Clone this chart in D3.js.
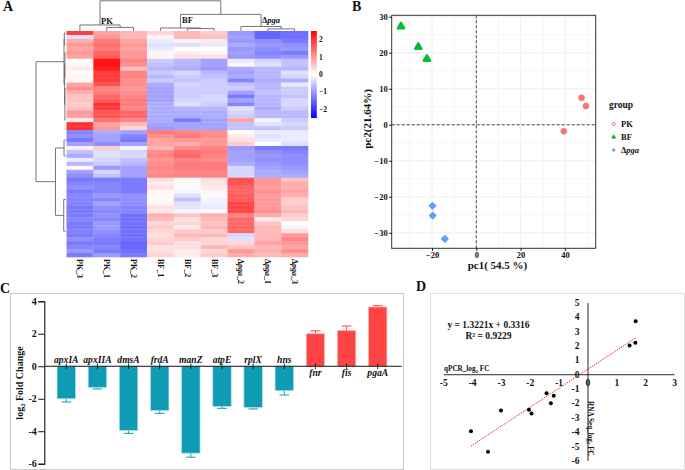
<!DOCTYPE html>
<html>
<head>
<meta charset="utf-8">
<script src="https://d3js.org/d3.v7.min.js"></script>
<style>
    html, body { margin: 0; padding: 0; background: #fff; }
    svg { display: block; }
    text { font-family: "Liberation Serif", serif; font-weight: bold; fill: #111; }
    .axis path, .axis line { stroke: #111; }
    .nodomain path { display: none; }
</style>
</head>
<body>
<svg width="685" height="470"></svg>
<script>
    // ---- panel A data
    var heatColumns = ["PK_3", "PK_1", "PK_2", "BF_1", "BF_2", "BF_3", "Δpga_2", "Δpga_1", "Δpga_3"];
    var heatRows = [
        [1.9, .9, .7, .4, .7, .5, -1, -1.5, -1.4],
        [-.3, 1, .7, .1, .7, .6, -.9, -1.5, -1.4],
        [.8, 1.3, .9, -.2, .1, .2, -1, -1.1, -1.3],
        [1, 1.4, 1, -.3, -.3, -.2, -.8, -1, -1.1],
        [.9, 1.3, .9, -.2, 0, 0, -1, -1.1, -1],
        [1, 1.5, 1, .1, .2, .1, -.9, -1.2, -1.3],
        [.9, 1.6, 1, .1, .3, .3, -1, -1.1, -1],
        [0, 2.3, 1.2, -.5, -.7, -.9, -.2, -.4, -.6],
        [.1, 2.3, 1.1, -.6, -.7, -.9, .1, -.3, -.6],
        [.2, 2.2, .6, -.7, -.8, -1, -.8, -.7, -.7],
        [0, 1.9, 1.2, -.5, -.4, -.7, -.9, -.7, -.3],
        [.1, 1.9, 1.2, -.7, -.5, -.6, -.8, -.7, -.4],
        [.05, 1.9, 1.1, -.5, -.6, -.5, -1.2, -.8, -.8],
        [.9, 1.7, 1.1, -.8, -.4, -.5, -.6, -.7, -.2],
        [1.1, 1.2, 1, -.9, -.5, -.5, -.5, -.7, -.5],
        [.8, 1.3, 1.1, -.9, -.5, -.5, -.9, -.6, -.5],
        [.6, 1.5, 1.2, -.9, -.5, -.4, -1.3, -.7, -.6],
        [.6, 1.6, 1.3, -.9, -.4, -.4, -.9, -.7, -.4],
        [.5, 2, 1.3, -.8, -.3, -.5, -1.2, -.7, -.4],
        [.6, 1.9, 1.2, -.8, -.7, -.7, -.3, -.8, -.5],
        [1, 1.7, 1.5, -.8, -.8, -.8, -.4, -.7, -.7],
        [.9, 1.7, 1.5, -.8, -.8, -.8, -.5, -.7, -.7],
        [.2, 1.4, 1.2, -.8, -1.3, -.9, .9, -.1, -.5],
        [2, .9, .7, -.9, -.9, -.9, -.6, -.3, -.4],
        [2, 1, .4, -1, -.9, -.9, -.6, -.6, -.5],
        [-1.2, -.8, -.9, 1.3, 1.2, 1.1, 0, -.2, -.2],
        [-1.1, -.9, -1.2, 1.1, 1.3, 1.1, .2, -.3, -.2],
        [-1.3, -.9, -1.3, .9, 1, 1, .3, -.2, -.2],
        [-.9, -1.1, -.9, .9, .8, 1, .5, 0, -.3],
        [.2, .5, -.1, .7, 1.1, 1.2, -1, -1.3, -1.3],
        [-.6, -.3, -.4, 1.1, 1.4, 1.3, -.9, -1.1, -1.2],
        [-.8, -.3, -.4, 1.2, 1.5, 1.2, -.9, -1, -1.1],
        [-.2, -.4, -.6, 1, 1.2, 1.1, -.9, -1.1, -1.1],
        [-.7, -.5, -.7, 1.1, 1.3, 1.3, -.8, -1, -1.1],
        [.1, -1, -.9, 1.2, 1.3, 1.3, -.4, -.9, -1],
        [-.9, -.4, -.9, 1.1, 1.2, 1.2, -.4, -.8, -.9],
        [-1.1, -.6, -.9, 1.2, 1.2, 1.2, -.4, -.8, -.8],
        [-1.3, -1.3, -1.3, .3, .03, .3, 1.7, 1, .6],
        [-1.2, -1.2, -1.3, .2, .05, .3, 1.7, 1, .8],
        [-1.1, -1.2, -1.3, .3, .02, .2, 1.5, 1, .8],
        [-1.3, -1.2, -1.3, .1, -.1, .1, 1.5, 1.1, .9],
        [-1.2, -1, -1.1, .05, -.3, .05, 1.6, 1, .8],
        [-1.2, -1.2, -1.1, .05, -.6, -.1, 1.6, 1, .5],
        [-1.2, -.9, -1.1, .1, -.3, -.15, 1.8, 1, .5],
        [-1.3, -1.1, -1.2, .3, -.25, -.2, 1.85, 1, .6],
        [-1.3, -1.2, -1.2, .2, -.1, .05, 1.8, 1.1, .7],
        [-1.3, -1.1, -1.4, .8, .6, .8, 1.2, .8, .5],
        [-1.2, -1.2, -1.4, .7, .3, .7, 1.5, .2, .4],
        [-1.3, -1, -1.4, .4, .4, .6, 1.5, .6, 0],
        [-1.3, -1, -1.4, .5, .2, .7, 1.5, .7, -.1],
        [-1.25, -1.1, -1.4, .4, .5, .5, 1.5, .7, .3],
        [-1.3, -1.2, -1.4, .3, .7, .7, -.4, .7, 1],
        [-1.1, -1.3, -1.4, .4, .5, .4, -.3, .7, 1.2],
        [-1.3, -1.3, -1.5, .5, .3, .4, .4, .9, 1],
        [-1.2, -1.2, -1.5, .3, .3, .7, .6, .7, .9],
        [-1, -1.3, -1.4, .3, .2, .4, 1, .8, 1.1],
        [-1.3, -1, -1.3, .4, .2, .5, .8, .7, .8]
    ];
    // dendrograms: merge height 0..1, leaves are column / row indexes
    var colTree = { h: 1, c: [
        { h: .2, c: [{ i: 0 }, { h: .12, c: [{ i: 1 }, { i: 2 }] }] },
        { h: .55, c: [
            { h: .1, c: [{ i: 3 }, { h: .08, c: [{ i: 4 }, { i: 5 }] }] },
            { h: .15, c: [{ i: 6 }, { h: .07, c: [{ i: 7 }, { i: 8 }] }] }
        ] }
    ] };
    var rowTree = { h: 1, c: [
        { h: .05, c: [
            { h: .04, c: [{ i: 0 }, { i: 3 }] },
            { h: .03, c: [
                { h: .02, c: [{ i: 5 }, { i: 11 }] },
                { h: .02, c: [{ i: 14 }, { i: 22 }] }
            ] }
        ] },
        { h: .34, c: [
            { h: .05, c: [{ i: 27 }, { i: 31 }] },
            { h: .06, c: [{ i: 42 }, { i: 50 }] }
        ] }
    ] };
    var heatTicks = [2, 1, 0, -1, -2];

    // ---- panel B data
    var pcaPK = [[47.5, 7.5], [49.5, 5.2], [39.5, -1.8]];
    var pcaBF = [[-34, 27.3], [-26.2, 21.6], [-22.3, 18.3]];
    var pcaPga = [[-19.8, -22.5], [-19.7, -25.2], [-14.2, -31.7]];

    // ---- panel C data
    var genes = ["apxIA", "apxIIA", "dmsA", "frdA", "manZ", "atpE", "rplX", "hns", "fnr", "fis", "pgaA"];
    var foldChange = [-2.0, -1.3, -3.95, -2.72, -5.35, -2.47, -2.53, -1.5, 2.0, 2.2, 3.65];
    var foldError = [.2, .1, .18, .18, .25, .12, .1, .27, .18, .28, .08];

    // ---- panel D data
    var qpcrFC = [1.67, 1.66, 1.46, -1.42, -1.17, -1.27, -2.03, -1.94, -3.0, -4.04, -3.45];
    var rnaFC = [3.7, 2.2, 2.0, -1.33, -1.5, -2.02, -2.47, -2.74, -2.53, -3.98, -5.4];
    var fitSlope = 1.3221, fitIntercept = 0.3316, fitRange = [-4.04, 1.67];

    var svg = d3.select("svg");
    var font = "Liberation Serif";

    function panelLabel(s, x, y) {
        svg.append("text").attr("x", x).attr("y", y).attr("font-size", 14).text(s);
    }
    // "Δpga" style text, pga is italic
    function pgaText(sel, prefix, suffix) {
        sel.append("tspan").text(prefix || "Δ");
        sel.append("tspan").attr("font-style", "italic").text("pga");
        if (suffix) sel.append("tspan").text(suffix);
    }

    panelLabel("A", 3, 11);
    panelLabel("B", 352, 11);
    panelLabel("C", 0, 293);
    panelLabel("D", 416, 291);

    /////////////////////////// A heatmap
    var heatX = d3.scaleBand().domain(d3.range(heatColumns.length)).range([66.5, 308]);
    var heatY = d3.scaleBand().domain(d3.range(heatRows.length)).range([31, 257]);
    var heatColor = d3.scaleLinear().domain([-2.5, 0, 2.5]).range(["#0000ff", "#ffffff", "#ff0000"]);

    var heat = svg.append("g").style("filter", "blur(0.5px)");
    heatRows.forEach(function (row, r) {
        heat.selectAll(null)
            .data(row)
            .enter()
            .append("rect")
            .attr("x", function (d, i) { return heatX(i); })
            .attr("y", heatY(r))
            .attr("width", heatX.bandwidth() + .3)
            .attr("height", heatY.bandwidth() + .3)
            .attr("fill", function (d) { return heatColor(d); });
    });

    // dendrograms
    var colPos = function (i) { return heatX(i) + heatX.bandwidth() / 2; };
    var rowPos = function (i) { return heatY(i) + heatY.bandwidth() / 2; };
    var colH = d3.scaleLinear().domain([0, 1]).range([31, .8]);
    var rowH = d3.scaleLinear().domain([0, 1]).range([65.5, 36]);

    function walk(node, pos, out) {
        if (node.c === undefined) return { p: pos(node.i), h: 0 };
        var a = walk(node.c[0], pos, out), b = walk(node.c[1], pos, out);
        out.push({ a: a, b: b, h: node.h });
        return { p: (a.p + b.p) / 2, h: node.h };
    }
    var colLinks = [], rowLinks = [];
    walk(colTree, colPos, colLinks);
    walk(rowTree, rowPos, rowLinks);

    svg.append("g").selectAll("path").data(colLinks).enter().append("path")
        .attr("fill", "none").attr("stroke", "#666").attr("stroke-width", .9)
        .attr("d", function (d) {
            return "M" + d.a.p + "," + colH(d.a.h) + "V" + colH(d.h) + "H" + d.b.p + "V" + colH(d.b.h);
        });
    svg.append("g").selectAll("path").data(rowLinks).enter().append("path")
        .attr("fill", "none").attr("stroke", "#666").attr("stroke-width", .9)
        .attr("d", function (d) {
            return "M" + rowH(d.a.h) + "," + d.a.p + "H" + rowH(d.h) + "V" + d.b.p + "H" + rowH(d.b.h);
        });

    // group names above the heatmap
    svg.append("text").attr("x", 101).attr("y", 24).attr("font-size", 8.5).text("PK");
    svg.append("text").attr("x", 182).attr("y", 23).attr("font-size", 8.5).text("BF");
    svg.append("text").attr("x", 262).attr("y", 23).attr("font-size", 8.5).call(pgaText);

    // column labels
    heatColumns.forEach(function (name, i) {
        var t = svg.append("text")
            .attr("transform", "translate(" + (colPos(i) - 2.5) + ",259) rotate(90)")
            .attr("font-size", 8);
        if (name.indexOf("Δ") === 0) pgaText(t, "Δ", name.slice(4));
        else t.text(name);
    });

    // colour bar
    var barY = d3.scaleLinear().domain([2.5, -2.5]).range([31, 118]);
    var barDefs = svg.append("defs").append("linearGradient").attr("id", "heatbar")
        .attr("x1", 0).attr("x2", 0).attr("y1", 0).attr("y2", 1);
    [["0%", 2.5], ["50%", 0], ["100%", -2.5]].forEach(function (s) {
        barDefs.append("stop").attr("offset", s[0]).attr("stop-color", heatColor(s[1]));
    });
    svg.append("rect").attr("x", 311).attr("y", barY(2.5)).attr("width", 5.8)
        .attr("height", barY(-2.5) - barY(2.5)).attr("fill", "url(#heatbar)");
    svg.append("g").selectAll("text").data(heatTicks).enter().append("text")
        .attr("x", 319).attr("y", function (d) { return barY(d) + 2.5; })
        .attr("font-size", 7.5)
        .text(function (d) { return d < 0 ? "−" + (-d) : d; });

    /////////////////////////// B PCA
    var pcX = d3.scaleLinear().domain([-38.2, 53.9]).range([391.7, 595.7]);
    var pcY = d3.scaleLinear().domain([30.4, -34.3]).range([15.3, 248.3]);
    var pca = svg.append("g");

    // grid, minor then major
    d3.range(-30, 51, 10).forEach(function (v) {
        var major = v % 20 === 0;
        pca.append("line").attr("x1", pcX(v)).attr("x2", pcX(v)).attr("y1", 15.3).attr("y2", 248.3)
            .attr("stroke", "#ececec").attr("stroke-width", major ? .9 : .5);
    });
    d3.range(-35, 31, 5).forEach(function (v) {
        var major = v % 10 === 0;
        pca.append("line").attr("y1", pcY(v)).attr("y2", pcY(v)).attr("x1", 391.7).attr("x2", 595.7)
            .attr("stroke", "#ececec").attr("stroke-width", major ? .9 : .5);
    });
    pca.append("line").attr("x1", pcX(0)).attr("x2", pcX(0)).attr("y1", 15.3).attr("y2", 248.3)
        .attr("stroke", "#333").attr("stroke-dasharray", "3,2").attr("stroke-width", .9);
    pca.append("line").attr("y1", pcY(0)).attr("y2", pcY(0)).attr("x1", 391.7).attr("x2", 595.7)
        .attr("stroke", "#333").attr("stroke-dasharray", "3,2").attr("stroke-width", .9);

    var symCircle = d3.symbol().type(d3.symbolCircle).size(26);
    var symTri = d3.symbol().type(d3.symbolTriangle).size(17);
    var symDia = d3.symbol().type(d3.symbolDiamond2).size(24);
    [[pcaPK, symCircle, "#F8766D", 1], [pcaBF, symTri, "#00BA38", 2.4], [pcaPga, symDia, "#619CFF", 1.6]].forEach(function (g) {
        pca.append("g").selectAll("path").data(g[0]).enter().append("path")
            .attr("transform", function (d) { return "translate(" + pcX(d[0]) + "," + pcY(d[1]) + ")"; })
            .attr("d", g[1])
            .attr("fill", g[2]).attr("stroke", g[2]).attr("stroke-width", g[3]).attr("stroke-linejoin", "round");
    });

    pca.append("rect").attr("x", 391.7).attr("y", 15.3).attr("width", 204).attr("height", 233)
        .attr("fill", "none").attr("stroke", "#333").attr("stroke-width", 1);

    var pcXAxis = pca.append("g").attr("class", "axis nodomain")
        .attr("transform", "translate(0,248.3)")
        .call(d3.axisBottom(pcX).tickValues([-20, 0, 20, 40]).tickSize(2.5).tickPadding(1.5));
    var pcYAxis = pca.append("g").attr("class", "axis nodomain")
        .attr("transform", "translate(391.7,0)")
        .call(d3.axisLeft(pcY).tickValues([30, 20, 10, 0, -10, -20, -30]).tickSize(2.5).tickPadding(1.5));
    pca.selectAll(".axis text").attr("font-family", font).attr("font-size", 8.5);

    svg.append("text").attr("x", 497.5).attr("y", 269).attr("text-anchor", "middle")
        .attr("font-size", 11).text("pc1( 54.5 %)");
    svg.append("text").attr("transform", "translate(371,119) rotate(-90)").attr("text-anchor", "middle")
        .attr("font-size", 11).text("pc2(21.64%)");

    svg.append("text").attr("x", 609).attr("y", 107.5).attr("font-size", 9.5).text("group");
    svg.append("path").attr("transform", "translate(613.7,124)")
        .attr("d", d3.symbol().type(d3.symbolCircle).size(9)).attr("fill", "#fde3e0").attr("stroke", "#F8766D").attr("stroke-width", .8);
    svg.append("path").attr("transform", "translate(613.7,137)")
        .attr("d", d3.symbol().type(d3.symbolTriangle).size(6)).attr("fill", "#00BA38").attr("stroke", "#00BA38").attr("stroke-width", 1).attr("stroke-linejoin", "round");
    svg.append("path").attr("transform", "translate(613.7,150)")
        .attr("d", d3.symbol().type(d3.symbolDiamond2).size(6)).attr("fill", "#619CFF").attr("stroke", "#619CFF").attr("stroke-width", 1).attr("stroke-linejoin", "round");
    svg.append("text").attr("x", 621).attr("y", 126.5).attr("font-size", 8.5).text("PK");
    svg.append("text").attr("x", 621).attr("y", 140).attr("font-size", 8.5).text("BF");
    svg.append("text").attr("x", 621).attr("y", 153).attr("font-size", 8.5).call(pgaText);

    /////////////////////////// C bars
    svg.append("rect").attr("x", 10.5).attr("y", 293.5).attr("width", 393).attr("height", 176)
        .attr("fill", "none").attr("stroke", "#c8c8c8").attr("stroke-width", 1);

    var fcY = d3.scaleLinear().domain([4, -6]).range([301.3, 463.7]);
    var fcX = d3.scaleBand().domain(genes).range([50.7, 393.3]).paddingInner(.41).paddingOuter(.205);
    var bars = svg.append("g");
    var colorOf = function (v) { return v < 0 ? "#109bb5" : "#ff4444"; };
    var strokeOf = function (v) { return v < 0 ? "#a5dde8" : "#ffbcbc"; };

    genes.forEach(function (g, i) {
        var v = foldChange[i], e = foldError[i];
        var cx = fcX(g) + fcX.bandwidth() / 2;
        var tip = fcY(v + (v < 0 ? -e : e));
        bars.append("line").attr("x1", cx).attr("x2", cx).attr("y1", fcY(v)).attr("y2", tip)
            .attr("stroke", colorOf(v)).attr("stroke-width", 1);
        bars.append("line").attr("x1", cx - 4.8).attr("x2", cx + 4.8).attr("y1", tip).attr("y2", tip)
            .attr("stroke", colorOf(v)).attr("stroke-width", 1);
        bars.append("rect").attr("x", fcX(g)).attr("width", fcX.bandwidth())
            .attr("y", Math.min(fcY(v), fcY(0))).attr("height", Math.abs(fcY(v) - fcY(0)))
            .attr("fill", colorOf(v)).attr("stroke", strokeOf(v)).attr("stroke-width", .7);
        bars.append("line").attr("x1", cx).attr("x2", cx).attr("y1", fcY(0) - 2.8).attr("y2", fcY(0) + 2.8)
            .attr("stroke", "#111").attr("stroke-width", .9);
        bars.append("text").attr("x", cx).attr("y", v < 0 ? fcY(0) - 3.6 : fcY(0) + 9.5)
            .attr("text-anchor", "middle").attr("font-style", "italic").attr("font-size", 9.6).text(g);
    });
    bars.append("line").attr("x1", 44.3).attr("x2", 401.7).attr("y1", fcY(0)).attr("y2", fcY(0))
        .attr("stroke", "#111").attr("stroke-width", 1);

    var fcAxis = svg.append("g").attr("class", "axis")
        .attr("transform", "translate(44.3,0)")
        .call(d3.axisLeft(fcY).tickValues([4, 2, 0, -2, -4, -6]).tickFormat(String).tickSize(6).tickPadding(1.5));
    fcAxis.select("path").attr("stroke-width", 1.1);
    fcAxis.selectAll("text").attr("font-family", font).attr("font-size", 10);

    var fcTitle = svg.append("text").attr("transform", "translate(22.5,383) rotate(-90)")
        .attr("text-anchor", "middle").attr("font-size", 10);
    fcTitle.append("tspan").text("log");
    fcTitle.append("tspan").attr("font-size", 6.5).attr("dy", 2).text("2");
    fcTitle.append("tspan").attr("dy", -2).text("  Fold Change");

    /////////////////////////// D scatter
    svg.append("rect").attr("x", 430.5).attr("y", 293.5).attr("width", 254).attr("height", 176)
        .attr("fill", "none").attr("stroke", "#e0e0e0").attr("stroke-width", 1);

    var qX = d3.scaleLinear().domain([-5, 3]).range([443.3, 674]);
    var qY = d3.scaleLinear().domain([5, -6]).range([302.5, 460.3]);

    var qxAxis = svg.append("g").attr("class", "axis").attr("transform", "translate(0," + qY(0) + ")")
        .call(d3.axisBottom(qX).ticks(8).tickFormat(String).tickSize(0).tickPadding(5));
    var qyAxis = svg.append("g").attr("class", "axis").attr("transform", "translate(" + qX(0) + ",0)")
        .call(d3.axisLeft(qY).ticks(11).tickFormat(String).tickSize(0).tickPadding(8));
    qxAxis.select("path").attr("stroke", "#555").attr("stroke-width", .9);
    qyAxis.select("path").attr("stroke", "#555").attr("stroke-width", .9);
    qxAxis.selectAll("text").attr("font-family", font).attr("font-size", 9.5);
    qyAxis.selectAll("text").attr("font-family", font).attr("font-size", 9.5);

    svg.append("line")
        .attr("x1", qX(fitRange[0])).attr("y1", qY(fitSlope * fitRange[0] + fitIntercept))
        .attr("x2", qX(fitRange[1])).attr("y2", qY(fitSlope * fitRange[1] + fitIntercept))
        .attr("stroke", "#e8252b").attr("stroke-width", 1).attr("stroke-dasharray", "1.3,1");

    svg.append("g").selectAll("circle").data(qpcrFC).enter().append("circle")
        .attr("cx", function (d) { return qX(d); })
        .attr("cy", function (d, i) { return qY(rnaFC[i]); })
        .attr("r", 2).attr("fill", "#000");

    svg.append("text").attr("x", 488.5).attr("y", 328).attr("text-anchor", "middle")
        .attr("font-size", 9.5).text("y = 1.3221x + 0.3316");
    svg.append("text").attr("x", 488.5).attr("y", 339).attr("text-anchor", "middle")
        .attr("font-size", 9.5).text("R² = 0.9229");

    var qpcrTitle = svg.append("text").attr("x", 444).attr("y", 371).attr("font-size", 7.2);
    qpcrTitle.append("tspan").text("qPCR_log");
    qpcrTitle.append("tspan").attr("font-size", 5).attr("dy", 1.5).text("2");
    qpcrTitle.append("tspan").attr("dy", -1.5).text(" FC");

    var rnaTitle = svg.append("text").attr("transform", "translate(588,401) rotate(90)").attr("font-size", 7.2);
    rnaTitle.append("tspan").text("RNA Seq_log");
    rnaTitle.append("tspan").attr("font-size", 5).attr("dy", 1.5).text("2");
    rnaTitle.append("tspan").attr("dy", -1.5).text(" FC");
</script>
</body>
</html>
